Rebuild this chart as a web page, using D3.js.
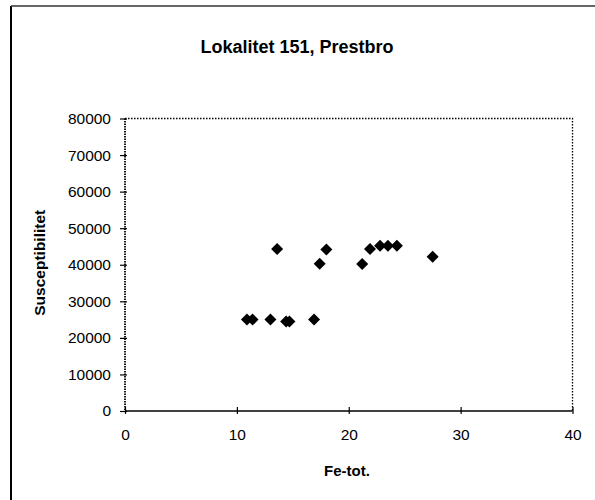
<!DOCTYPE html>
<html><head><meta charset="utf-8">
<script src="https://cdn.jsdelivr.net/npm/d3@7"></script>
<style>body{margin:0;background:#fff}svg{display:block}</style>
</head><body>
<svg id="c" width="595" height="500"></svg>
<script>
const title = "Lokalitet 151, Prestbro";
const xLabel = "Fe-tot.";
const yLabel = "Susceptibilitet";
const feTot = [10.9, 11.4, 13.0, 13.6, 14.4, 14.7, 16.9, 17.4, 18.0, 21.2, 21.9, 22.8, 23.5, 24.3, 27.5];
const suscept = [25000, 25000, 25000, 44300, 24500, 24500, 25000, 40300, 44200, 40200, 44300, 45200, 45200, 45200, 42200];
const xTicks = [0, 10, 20, 30, 40];
const yTicks = [0, 10000, 20000, 30000, 40000, 50000, 60000, 70000, 80000];

const svg = d3.select("#c");
const font = "Arial, 'Liberation Sans', sans-serif";
const L = 125, R = 572.5, T = 118.5, B = 411;
const x = d3.scaleLinear().domain([0, 40]).range([L, R]);
const y = d3.scaleLinear().domain([0, 80000]).range([B, T]);

// outer frame
svg.append("line").attr("x1", 11).attr("x2", 11).attr("y1", 6).attr("y2", 500).attr("stroke", "#000").attr("stroke-width", 2);
svg.append("line").attr("x1", 11).attr("x2", 595).attr("y1", 6).attr("y2", 6).attr("stroke", "#333").attr("stroke-width", 1.5);

// title
svg.append("text").attr("x", 297).attr("y", 53).attr("text-anchor", "middle")
  .attr("font-family", font).attr("font-weight", "bold").attr("font-size", 18).text(title);

// plot frame (dotted top/right)
svg.append("path").attr("d", `M${L},${T}H${R}V${B}`).attr("fill", "none")
  .attr("stroke", "#000").attr("stroke-width", 1.3).attr("stroke-dasharray", "1.5,1.5");

// y axis
const ya = svg.append("g").attr("transform", `translate(${L},0)`)
  .call(d3.axisLeft(y).tickValues(yTicks).tickFormat(d3.format("d")).tickSize(5).tickPadding(9));
ya.select(".domain").attr("stroke-width", 1.8).attr("stroke-dasharray", "1.5,1").attr("d", `M0,${T}V${B}`);
ya.selectAll(".tick line").attr("x1", 2).attr("stroke-width", 1.2);
ya.selectAll("text").attr("font-family", font).attr("font-size", 15.5).attr("fill", "#000");

// x axis
const xa = svg.append("g").attr("transform", `translate(0,${B})`)
  .call(d3.axisBottom(x).tickValues(xTicks).tickSize(3).tickPadding(15));
xa.select(".domain").attr("stroke-width", 1.6).attr("d", `M${L},0H${R}`);
xa.selectAll(".tick line").attr("y1", -4).attr("y2", 3).attr("stroke-width", 1.2);
xa.selectAll("text").attr("font-family", font).attr("font-size", 15.5).attr("fill", "#000");

// axis titles
svg.append("text").attr("x", 347).attr("y", 476).attr("text-anchor", "middle")
  .attr("font-family", font).attr("font-weight", "bold").attr("font-size", 15).text(xLabel);
svg.append("text").attr("transform", `translate(45,${(T + B) / 2 - 2}) rotate(-90)`).attr("text-anchor", "middle")
  .attr("font-family", font).attr("font-weight", "bold").attr("font-size", 15.5).text(yLabel);

// points
const r = 6;
svg.append("g").selectAll("path").data(feTot.map((v, i) => [v, suscept[i]])).join("path")
  .attr("d", d => { const cx = x(d[0]), cy = y(d[1]); return `M${cx},${cy - r}L${cx + r},${cy}L${cx},${cy + r}L${cx - r},${cy}Z`; })
  .attr("fill", "#000");
</script>
</body></html>
